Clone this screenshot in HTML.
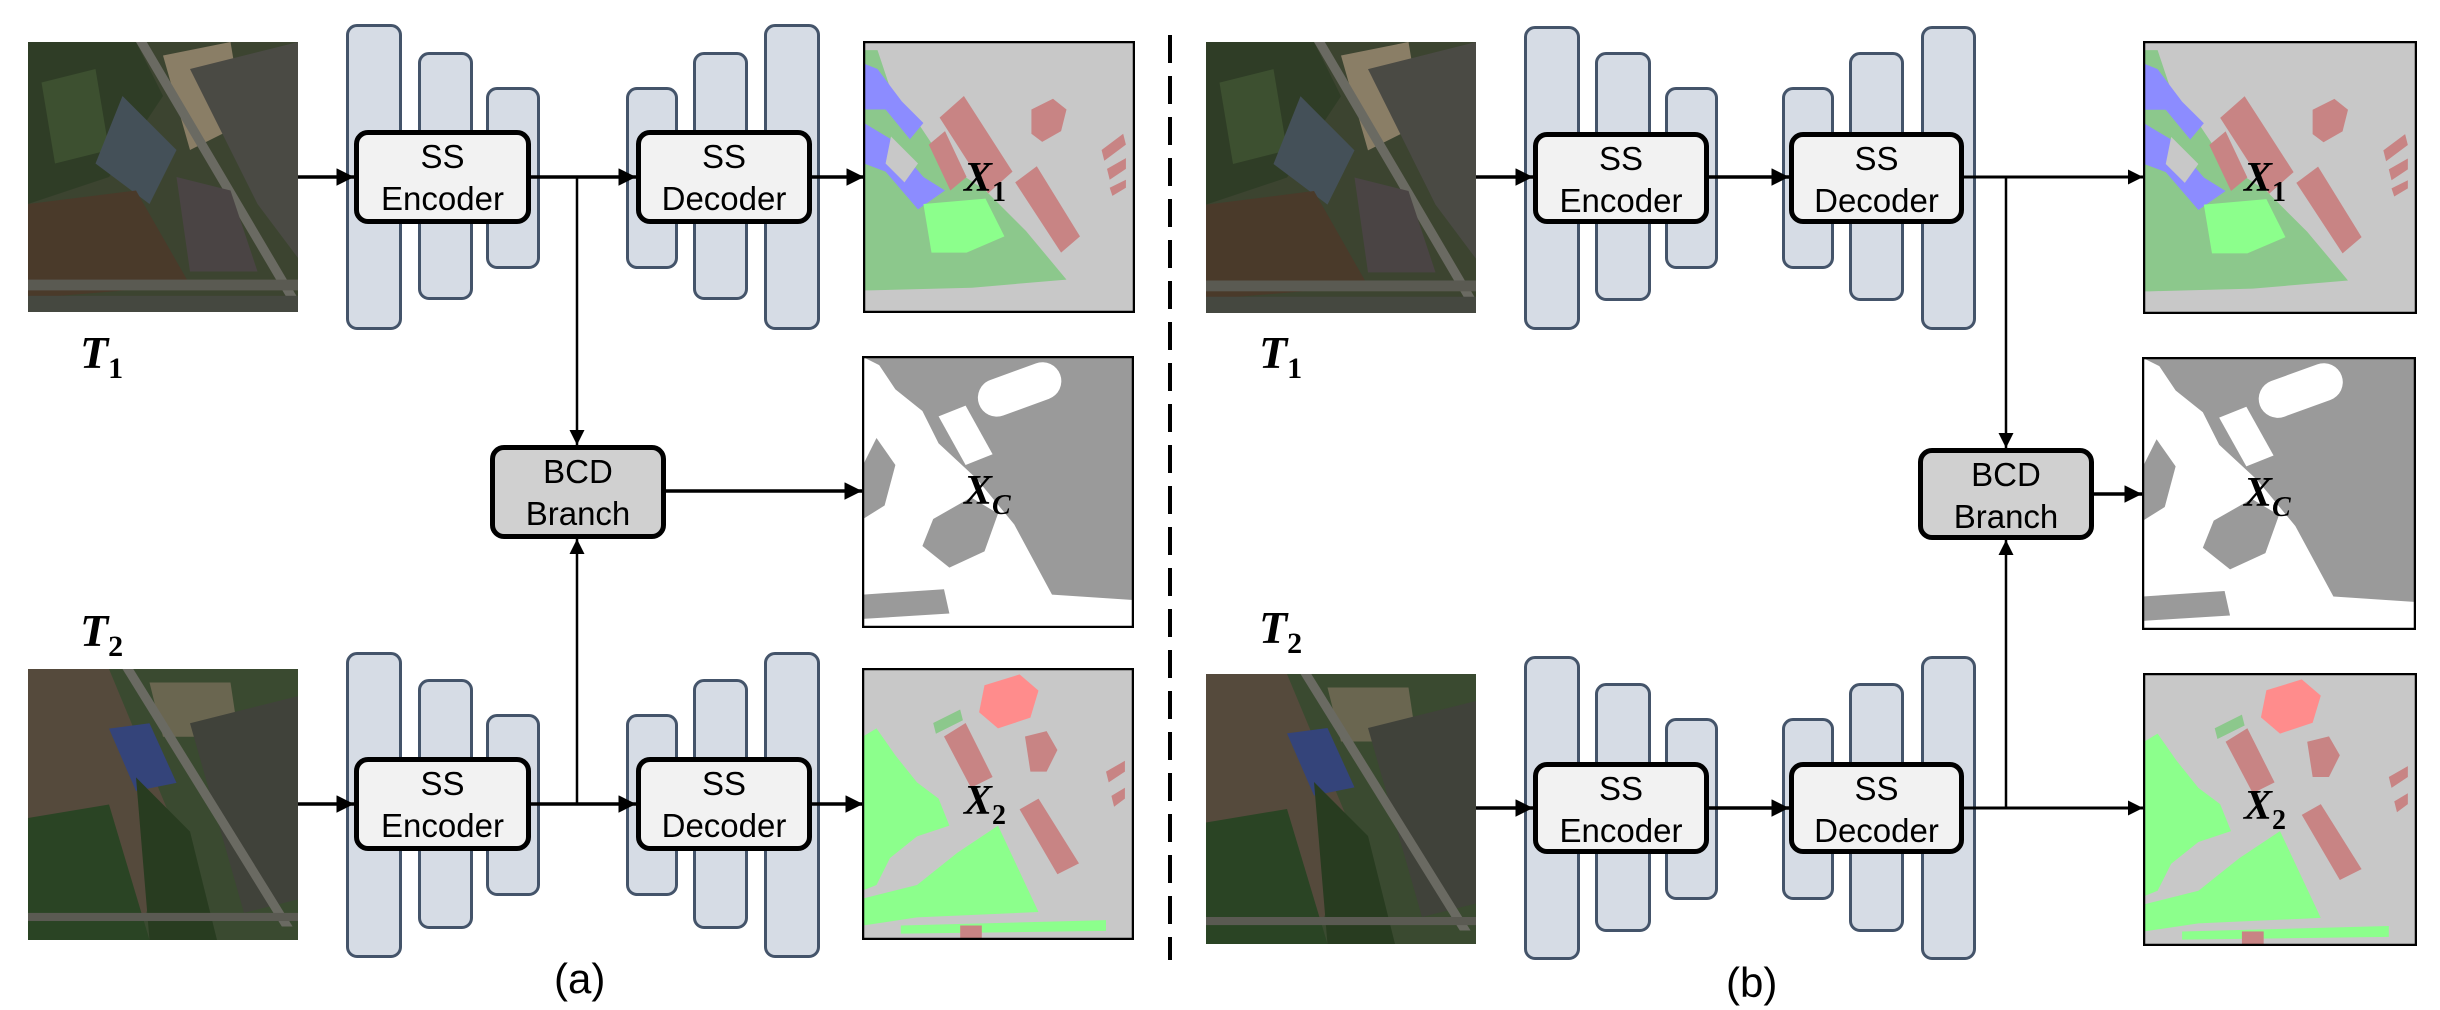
<!DOCTYPE html>
<html><head><meta charset="utf-8"><style>
body{margin:0;background:#fff;}
#c{position:relative;width:2440px;height:1010px;overflow:hidden;background:#fff;font-family:"Liberation Sans",sans-serif;}
.bar{position:absolute;background:#d6dce5;border:3px solid #44546a;border-radius:11px;box-sizing:border-box;}
.box{position:absolute;background:#f2f2f2;border:5px solid #000;border-radius:14px;box-sizing:border-box;text-align:center;font-size:33px;line-height:42px;padding-top:1px;color:#000;}
.bcd{background:#d0d0d0;}
.img{position:absolute;}
.lab{position:absolute;font-family:"Liberation Serif",serif;font-weight:bold;font-style:italic;font-size:46px;line-height:46px;color:#000;}
.lab sub{font-style:normal;font-size:30px;vertical-align:-10px;}
.ml{position:absolute;font-family:"Liberation Serif",serif;font-weight:bold;font-style:italic;font-size:42px;line-height:42px;color:#000;}
.ml sub{font-style:normal;font-size:28px;vertical-align:-10px;}
.ml sub.i{font-style:italic;}
.cap{position:absolute;font-size:42px;line-height:42px;}
</style></head><body><div id="c">
<svg width="0" height="0" style="position:absolute">
<defs>
<symbol id="sat1" viewBox="0 0 100 100" preserveAspectRatio="none">
<rect width="100" height="100" fill="#3c4430"/>
<polygon points="0,0 40,0 50,20 30,50 0,60" fill="#2f3d26"/>
<polygon points="5,15 25,10 30,40 10,45" fill="#3d5030"/>
<polygon points="50,5 75,0 80,30 60,40" fill="#8a7e66"/>
<polygon points="60,10 100,0 100,80 85,60" fill="#4a4a44"/>
<polygon points="35,20 55,40 45,60 25,45" fill="#445058"/>
<polygon points="0,60 40,55 60,90 0,95" fill="#4a3a2a"/>
<polygon points="40,0 44,0 100,95 96,95" fill="#6a6a62"/>
<polygon points="55,50 75,55 85,85 60,85" fill="#4a4444"/>
<rect x="0" y="88" width="100" height="4" fill="#5a5a52"/>
<rect x="0" y="94" width="100" height="6" fill="#454840"/>
</symbol>
<symbol id="sat2" viewBox="0 0 100 100" preserveAspectRatio="none">
<rect width="100" height="100" fill="#3a4a30"/>
<polygon points="0,0 30,0 55,60 40,100 0,100" fill="#554a3c"/>
<polygon points="0,55 30,50 45,100 0,100" fill="#2a4424"/>
<polygon points="45,5 75,5 78,25 50,25" fill="#6a6650"/>
<polygon points="30,22 45,20 55,42 40,45" fill="#34447a"/>
<polygon points="60,20 100,10 100,85 80,90" fill="#40423a"/>
<polygon points="40,40 60,60 70,100 45,100" fill="#283c20"/>
<polygon points="35,0 39,0 98,95 94,95" fill="#6a6a62"/>
<rect x="0" y="90" width="100" height="3" fill="#5a5a52"/>
</symbol>
<symbol id="x1" viewBox="0 0 100 100" preserveAspectRatio="none">
<rect width="100" height="100" fill="#c8c8c8"/>
<polygon points="0,3 5,3 10,18 20,30 30,45 45,55 60,70 75,88 40,91 2,92 0,92" fill="#8cc88c"/>
<polygon points="0,8 5,10 14,22 22,30 17,36 8,25 0,25" fill="#8c8cff"/>
<polygon points="0,30 10,36 22,50 30,55 20,62 8,48 0,45" fill="#8c8cff"/>
<polygon points="22,60 45,58 52,72 38,78 25,78" fill="#8cff8c"/>
<polygon points="10,35 20,45 15,52 8,45" fill="#c8c8c8"/>
<polygon points="28,28 37,20 55,48 46,56" fill="#c88484"/>
<polygon points="24,38 30,33 38,50 32,55" fill="#c88484"/>
<polygon points="56,52 64,46 80,72 73,78" fill="#c88484"/>
<polygon points="62,25 70,21 75,25 73,33 66,37 62,34" fill="#c88484"/>
<polygon points="88,40 96,34 97,38 89,44" fill="#c88484"/>
<polygon points="90,47 97,43 97,47 91,51" fill="#c88484"/>
<polygon points="91,54 97,51 97,54 92,57" fill="#c88484"/>
</symbol>
<symbol id="xc" viewBox="0 0 100 100" preserveAspectRatio="none">
<rect width="100" height="100" fill="#9a9a9a"/>
<polygon points="0,0 6,3 12,12 22,20 28,32 42,45 56,62 70,88 100,90 100,100 0,100" fill="#fff"/>
<polygon points="26,60 40,52 50,58 45,72 32,78 22,70" fill="#9a9a9a"/>
<polygon points="5,30 12,40 8,55 0,60 0,40" fill="#9a9a9a"/>
<polygon points="0,88 30,86 32,95 0,97" fill="#9a9a9a"/>
<rect x="42" y="5" width="32" height="14" rx="7" transform="rotate(-20 58 12)" fill="#fff"/>
<polygon points="28,22 38,18 48,36 38,40" fill="#fff"/>
</symbol>
<symbol id="x2" viewBox="0 0 100 100" preserveAspectRatio="none">
<rect width="100" height="100" fill="#c8c8c8"/>
<polygon points="0,25 5,22 12,32 20,42 28,48 32,58 20,62 10,70 5,80 0,82" fill="#8cff8c"/>
<polygon points="0,85 20,80 35,68 50,58 65,90 20,92 0,95" fill="#8cff8c"/>
<polygon points="14,95 90,93 90,97 14,98" fill="#8cff8c"/>
<polygon points="45,6 58,2 65,8 62,18 50,22 43,16" fill="#ff8c8c"/>
<polygon points="26,20 36,15 37,19 27,24" fill="#8cc88c"/>
<polygon points="30,25 38,20 48,40 40,44" fill="#c88484"/>
<polygon points="58,52 65,48 80,72 72,76" fill="#c88484"/>
<polygon points="60,25 68,23 72,30 68,38 62,38" fill="#c88484"/>
<polygon points="90,38 97,34 97,38 91,42" fill="#c88484"/>
<polygon points="92,47 97,44 97,48 93,51" fill="#c88484"/>
<rect x="36" y="95" width="8" height="5" fill="#c88484"/>
</symbol>
</defs>
</svg>

<!-- Panel A -->
<svg class="img" style="left:28px;top:42px" width="270" height="270"><use href="#sat1" width="270" height="270"/></svg>
<svg class="img" style="left:28px;top:669px" width="270" height="271"><use href="#sat2" width="270" height="271"/></svg>
<div class="lab" style="left:80px;top:330px">T<sub>1</sub></div>
<div class="lab" style="left:80px;top:608px">T<sub>2</sub></div>

<div class="bar" style="left:346px;top:24px;width:56px;height:306px"></div>
<div class="bar" style="left:418px;top:52px;width:55px;height:248px"></div>
<div class="bar" style="left:486px;top:87px;width:54px;height:182px"></div>
<div class="bar" style="left:626px;top:87px;width:52px;height:182px"></div>
<div class="bar" style="left:693px;top:52px;width:55px;height:248px"></div>
<div class="bar" style="left:764px;top:24px;width:56px;height:306px"></div>
<div class="box" style="left:354px;top:130px;width:177px;height:94px">SS<br>Encoder</div>
<div class="box" style="left:636px;top:130px;width:176px;height:94px">SS<br>Decoder</div>

<div class="bar" style="left:346px;top:652px;width:56px;height:306px"></div>
<div class="bar" style="left:418px;top:679px;width:55px;height:250px"></div>
<div class="bar" style="left:486px;top:714px;width:54px;height:182px"></div>
<div class="bar" style="left:626px;top:714px;width:52px;height:182px"></div>
<div class="bar" style="left:693px;top:679px;width:55px;height:250px"></div>
<div class="bar" style="left:764px;top:652px;width:56px;height:306px"></div>
<div class="box" style="left:354px;top:757px;width:177px;height:94px">SS<br>Encoder</div>
<div class="box" style="left:636px;top:757px;width:176px;height:94px">SS<br>Decoder</div>
<div class="box bcd" style="left:490px;top:445px;width:176px;height:94px">BCD<br>Branch</div>

<svg class="img" style="left:863px;top:41px" width="272" height="272"><use href="#x1" x="1" y="1" width="270" height="270"/><rect x="1" y="1" width="270" height="270" fill="none" stroke="#000" stroke-width="2.5"/></svg>
<svg class="img" style="left:862px;top:356px" width="272" height="272"><use href="#xc" x="1" y="1" width="270" height="270"/><rect x="1" y="1" width="270" height="270" fill="none" stroke="#000" stroke-width="2.5"/></svg>
<svg class="img" style="left:862px;top:668px" width="272" height="272"><use href="#x2" x="1" y="1" width="270" height="270"/><rect x="1" y="1" width="270" height="270" fill="none" stroke="#000" stroke-width="2.5"/></svg>
<div class="ml" style="left:964px;top:157px">X<sub>1</sub></div>
<div class="ml" style="left:964px;top:470px">X<sub class="i">C</sub></div>
<div class="ml" style="left:964px;top:780px">X<sub>2</sub></div>
<div class="cap" style="left:554px;top:958px">(a)</div>

<!-- Panel B -->
<svg class="img" style="left:1206px;top:42px" width="270" height="271"><use href="#sat1" width="270" height="271"/></svg>
<svg class="img" style="left:1206px;top:674px" width="270" height="270"><use href="#sat2" width="270" height="270"/></svg>
<div class="lab" style="left:1259px;top:330px">T<sub>1</sub></div>
<div class="lab" style="left:1259px;top:605px">T<sub>2</sub></div>

<div class="bar" style="left:1524px;top:26px;width:56px;height:304px"></div>
<div class="bar" style="left:1595px;top:52px;width:56px;height:249px"></div>
<div class="bar" style="left:1665px;top:87px;width:53px;height:182px"></div>
<div class="bar" style="left:1782px;top:87px;width:52px;height:182px"></div>
<div class="bar" style="left:1849px;top:52px;width:55px;height:249px"></div>
<div class="bar" style="left:1921px;top:26px;width:55px;height:304px"></div>
<div class="box" style="left:1533px;top:132px;width:176px;height:92px">SS<br>Encoder</div>
<div class="box" style="left:1789px;top:132px;width:175px;height:92px">SS<br>Decoder</div>

<div class="bar" style="left:1524px;top:656px;width:56px;height:304px"></div>
<div class="bar" style="left:1595px;top:683px;width:56px;height:249px"></div>
<div class="bar" style="left:1665px;top:718px;width:53px;height:182px"></div>
<div class="bar" style="left:1782px;top:718px;width:52px;height:182px"></div>
<div class="bar" style="left:1849px;top:683px;width:55px;height:249px"></div>
<div class="bar" style="left:1921px;top:656px;width:55px;height:304px"></div>
<div class="box" style="left:1533px;top:762px;width:176px;height:92px">SS<br>Encoder</div>
<div class="box" style="left:1789px;top:762px;width:175px;height:92px">SS<br>Decoder</div>
<div class="box bcd" style="left:1918px;top:448px;width:176px;height:92px">BCD<br>Branch</div>

<svg class="img" style="left:2143px;top:41px" width="274" height="273"><use href="#x1" x="1" y="1" width="272" height="271"/><rect x="1" y="1" width="272" height="271" fill="none" stroke="#000" stroke-width="2.5"/></svg>
<svg class="img" style="left:2142px;top:357px" width="274" height="273"><use href="#xc" x="1" y="1" width="272" height="271"/><rect x="1" y="1" width="272" height="271" fill="none" stroke="#000" stroke-width="2.5"/></svg>
<svg class="img" style="left:2143px;top:673px" width="274" height="273"><use href="#x2" x="1" y="1" width="272" height="271"/><rect x="1" y="1" width="272" height="271" fill="none" stroke="#000" stroke-width="2.5"/></svg>
<div class="ml" style="left:2244px;top:157px">X<sub>1</sub></div>
<div class="ml" style="left:2244px;top:472px">X<sub class="i">C</sub></div>
<div class="ml" style="left:2244px;top:785px">X<sub>2</sub></div>
<div class="cap" style="left:1726px;top:962px">(b)</div>

<!-- connectors -->
<svg class="img" style="left:0;top:0" width="2440" height="1010">
<defs><marker id="ah" markerWidth="5" markerHeight="5" refX="5" refY="2.5" orient="auto" markerUnits="strokeWidth"><path d="M0,0 L5,2.5 L0,5 z" fill="#000"/></marker>
<marker id="ah2" markerWidth="6" markerHeight="6" refX="6" refY="3" orient="auto" markerUnits="strokeWidth"><path d="M0,0 L6,3 L0,6 z" fill="#000"/></marker></defs>
<g stroke="#000" fill="none">
<line x1="298" y1="177" x2="354" y2="177" stroke-width="3.5" marker-end="url(#ah)"/>
<line x1="531" y1="177" x2="636" y2="177" stroke-width="3.5" marker-end="url(#ah)"/>
<line x1="812" y1="177" x2="864" y2="177" stroke-width="3.5" marker-end="url(#ah)"/>
<line x1="577" y1="177" x2="577" y2="445" stroke-width="2.5" marker-end="url(#ah2)"/>
<line x1="298" y1="804" x2="354" y2="804" stroke-width="3.5" marker-end="url(#ah)"/>
<line x1="531" y1="804" x2="636" y2="804" stroke-width="3.5" marker-end="url(#ah)"/>
<line x1="812" y1="804" x2="863" y2="804" stroke-width="3.5" marker-end="url(#ah)"/>
<line x1="577" y1="804" x2="577" y2="539" stroke-width="2.5" marker-end="url(#ah2)"/>
<line x1="666" y1="491" x2="862" y2="491" stroke-width="3.5" marker-end="url(#ah)"/>

<line x1="1476" y1="177" x2="1533" y2="177" stroke-width="3.5" marker-end="url(#ah)"/>
<line x1="1709" y1="177" x2="1789" y2="177" stroke-width="3.5" marker-end="url(#ah)"/>
<line x1="1964" y1="177" x2="2143" y2="177" stroke-width="3" marker-end="url(#ah)"/>
<line x1="2006" y1="177" x2="2006" y2="448" stroke-width="2.5" marker-end="url(#ah2)"/>
<line x1="1476" y1="808" x2="1533" y2="808" stroke-width="3.5" marker-end="url(#ah)"/>
<line x1="1709" y1="808" x2="1789" y2="808" stroke-width="3.5" marker-end="url(#ah)"/>
<line x1="1964" y1="808" x2="2143" y2="808" stroke-width="3" marker-end="url(#ah)"/>
<line x1="2006" y1="808" x2="2006" y2="540" stroke-width="2.5" marker-end="url(#ah2)"/>
<line x1="2094" y1="494" x2="2142" y2="494" stroke-width="3.5" marker-end="url(#ah)"/>

<line x1="1170" y1="35" x2="1170" y2="960" stroke-width="4" stroke-dasharray="28,13"/>
</g>
</svg>
</div></body></html>
